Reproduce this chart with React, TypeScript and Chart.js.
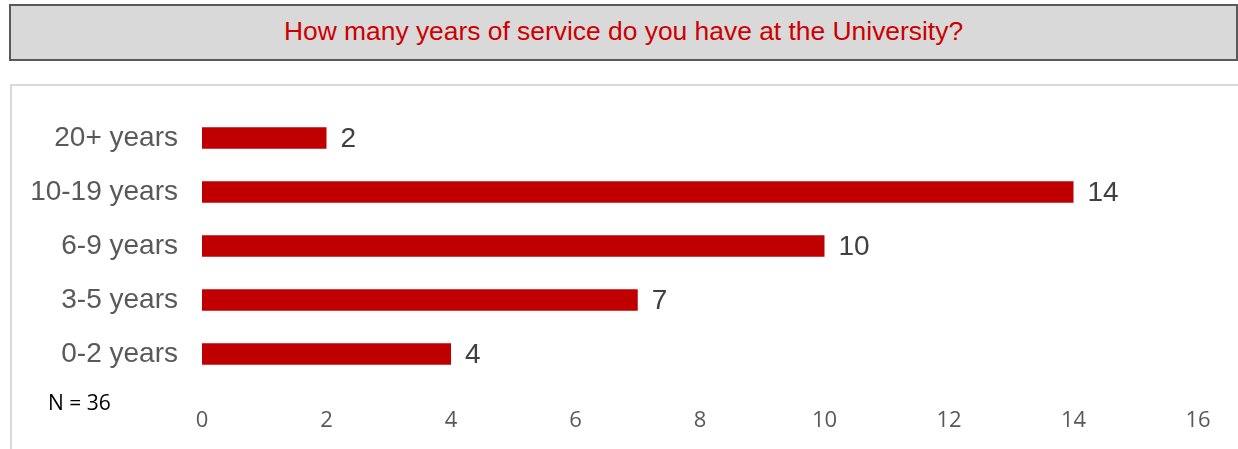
import React, { useEffect, useRef } from "react";
import { Chart, registerables } from "chart.js";

Chart.register(...registerables);

const title = "How many years of service do you have at the University?";
const categories = ["20+ years", "10-19 years", "6-9 years", "3-5 years", "0-2 years"];
const counts = [2, 14, 10, 7, 4];
const xTicks = [0, 2, 4, 6, 8, 10, 12, 14, 16];
const note = "N = 36";

const BAR = "#c00000";

const valueLabels = {
  id: "valueLabels",
  afterDatasetsDraw(chart: any) {
    const ctx = chart.ctx;
    const meta = chart.getDatasetMeta(0);
    ctx.save();
    ctx.font = "28px 'Liberation Sans', Arial, sans-serif";
    ctx.fillStyle = "#404040";
    ctx.textAlign = "left";
    ctx.textBaseline = "middle";
    meta.data.forEach((el: any, i: number) => {
      ctx.fillText(String(counts[i]), el.x + 14, el.y + 1);
    });
    ctx.restore();
  },
};

export default function App() {
  const ref = useRef<HTMLCanvasElement | null>(null);
  useEffect(() => {
    if (!ref.current) return;
    const chart = new Chart(ref.current, {
      type: "bar",
      data: {
        labels: categories,
        datasets: [
          {
            data: counts,
            backgroundColor: BAR,
            borderWidth: 0,
            categoryPercentage: 0.4,
            barPercentage: 1,
          },
        ],
      },
      options: {
        indexAxis: "y",
        animation: false,
        responsive: false,
        maintainAspectRatio: false,
        layout: { padding: { left: 0, right: 40, top: 24, bottom: 10 } },
        plugins: {
          legend: { display: false },
          tooltip: { enabled: false },
          title: { display: false },
        },
        scales: {
          x: {
            min: 0,
            max: 16,
            afterBuildTicks: (scale: any) => {
              scale.ticks = xTicks.map((v) => ({ value: v }));
            },
            afterFit: (scale: any) => {
              scale.height = 58;
            },
            grid: { display: false, drawTicks: false },
            border: { display: false },
            ticks: {
              color: "#595959",
              padding: 27,
              font: { family: "'Open Sans', sans-serif", size: 22 },
            },
          },
          y: {
            afterFit: (scale: any) => {
              scale.width = 190;
              scale.paddingTop = 0;
              scale.paddingBottom = 0;
            },
            grid: { display: false, drawTicks: false },
            border: { display: false },
            ticks: {
              color: "#595959",
              padding: 24,
              font: { family: "'Liberation Sans', Arial, sans-serif", size: 28 },
            },
          },
        },
      },
      plugins: [valueLabels],
    });
    return () => chart.destroy();
  }, []);

  return (
    <div style={{ position: "fixed", left: 0, top: 0, width: 1238, height: 449, background: "#fff", overflow: "hidden" }}>
      <div
        style={{
          position: "absolute",
          left: 9,
          top: 4,
          width: 1229,
          height: 57,
          boxSizing: "border-box",
          background: "#d9d9d9",
          border: "2px solid #595959",
          display: "flex",
          alignItems: "center",
          justifyContent: "center",
          color: "#cc0000",
          fontFamily: "'Liberation Sans', Arial, sans-serif",
          fontSize: 26.4,
          paddingBottom: 2,
        }}
      >
        {title}
      </div>
      <div
        style={{
          position: "absolute",
          left: 10,
          top: 84,
          width: 1240,
          height: 380,
          boxSizing: "border-box",
          borderTop: "2px solid #d9d9d9",
          borderLeft: "2px solid #d9d9d9",
        }}
      />
      <canvas
        ref={ref}
        width={1226}
        height={362}
        style={{ position: "absolute", left: 12, top: 87, width: 1226, height: 362 }}
      />
      <div
        style={{
          position: "absolute",
          left: 48,
          top: 388,
          color: "#000",
          fontFamily: "'Open Sans', sans-serif",
          fontSize: 21,
        }}
      >
        {note}
      </div>
    </div>
  );
}
